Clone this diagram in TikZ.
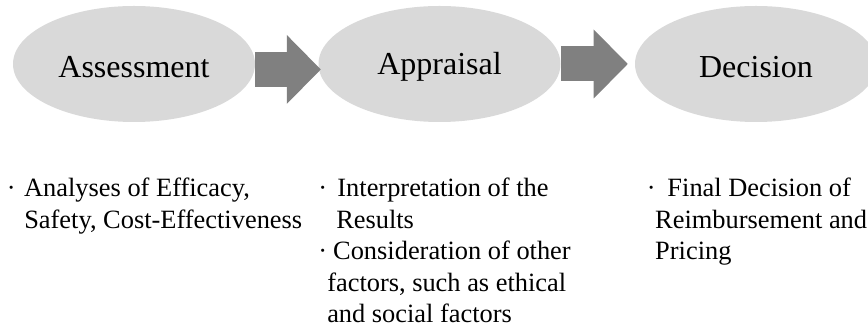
\documentclass[tikz,border=0pt]{standalone}
\usepackage{fontspec}
\setmainfont{Liberation Serif}
\usepackage{tikz}
\usetikzlibrary{arrows.meta, positioning, shapes.geometric}
\definecolor{phasegray}{HTML}{D9D9D9}
\definecolor{arrowgray}{HTML}{808080}
\tikzset{
x=0.75pt, y=-0.75pt, % one unit is one pixel of the figure, y going down
phase/.style={ellipse, fill=phasegray, inner sep=0pt,
  minimum width=181.5pt, minimum height=87pt,
  font=\fontsize{24}{28}\selectfont,
  execute at begin node=\rule{0pt}{21pt}}, % the grey stages
flow/.style={draw=arrowgray, line width=26.25pt,
  -{Triangle[length=25.5pt, width=51.75pt, line width=0pt]}}, % block arrow between stages
notes/.style={anchor=north west, align=left, inner sep=0pt,
  font=\fontsize{19.8}{23.6}\selectfont}, % bullet texts under the stages
}

\begin{document}
\begin{tikzpicture}
    \useasboundingbox (0,0) rectangle (868,327);
    \node[phase] (assess) at (134,64) {Assessment};
    \node[phase] (apprais) at (439.5,64) {Appraisal};
    \node[phase] (decide) at (756,64) {Decision};

    \draw[flow, shorten >=-1.9pt] ([yshift=-4.1pt]assess.east) -- ([yshift=-4.1pt]apprais.west);
    \draw[flow, shorten >=5.25pt] (apprais.east) -- (decide.west);

    \node[notes] (assessnotes) at (6.7,178) {\textperiodcentered\hspace{6.3pt}Analyses of Efficacy,\\\hspace*{13pt}Safety, Cost-Effectiveness};
    \node[notes] (appraisnotes) at (318,178) {\textperiodcentered\hspace{7.8pt}Interpretation of the\\\hspace*{13.5pt}Results\\\textperiodcentered\hspace{4.6pt}Consideration of other\\\hspace*{6.75pt}factors, such as ethical\\\hspace*{6.75pt}and social factors};
    \node[notes] (decidenotes) at (646.7,178) {\textperiodcentered\hspace{8.8pt}Final Decision of\\\hspace*{6.2pt}Reimbursement and\\\hspace*{6.2pt}Pricing};
\end{tikzpicture}
\end{document}
